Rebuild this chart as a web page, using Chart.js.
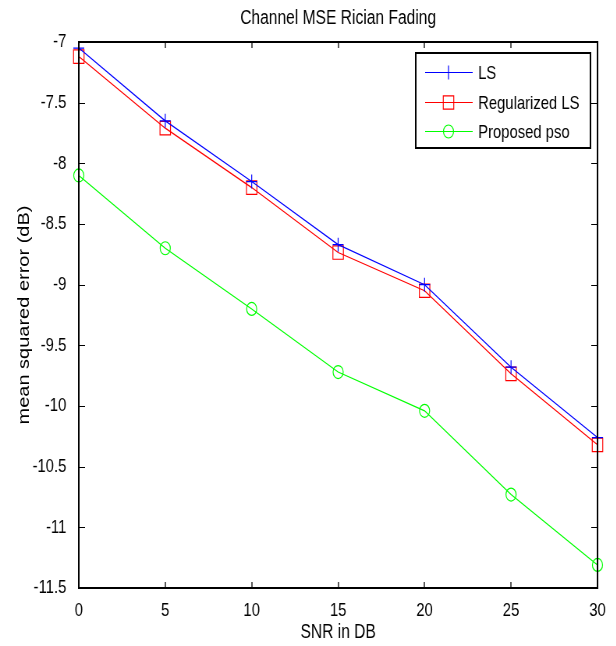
<!DOCTYPE html>
<html>
<head>
<meta charset="utf-8">
<script src="https://cdn.jsdelivr.net/npm/chart.js@4.4.1/dist/chart.umd.min.js"></script>
<style>
  html, body { margin: 0; padding: 0; background: #fff; overflow: hidden; }
  /* the reference figure is squeezed sideways, so draw wide and squeeze */
  #wrap { width: 790px; height: 646px; transform: scaleX(0.78); transform-origin: 0 0; }
</style>
</head>
<body>
<div id="wrap"><canvas id="mseChart" width="790" height="646"></canvas></div>
<script>
// Values
const snr = [0, 5, 10, 15, 20, 25, 30];
const lsMse = [-7.05, -7.65, -8.15, -8.67, -9.0, -9.68, -10.26];
const regLsMse = [-7.12, -7.71, -8.2, -8.735, -9.05, -9.735, -10.32];
const psoMse = [-8.1, -8.7, -9.2, -9.72, -10.04, -10.73, -11.31];
const yTicks = [-7, -7.5, -8, -8.5, -9, -9.5, -10, -10.5, -11, -11.5];
const xTicks = [0, 5, 10, 15, 20, 25, 30];

const FONT = '"Liberation Sans", Arial, sans-serif';

// MATLAB style box with inward ticks on all four sides
const boxPlugin = {
    id: 'matlabBox',
    afterDatasetsDraw(chart) {
        const { ctx, chartArea: a, scales } = chart;
        ctx.save();
        ctx.strokeStyle = '#000';
        ctx.lineWidth = 1.3;
        ctx.beginPath();
        xTicks.forEach(v => {
            const px = Math.round(scales.x.getPixelForValue(v));
            ctx.moveTo(px, a.bottom); ctx.lineTo(px, a.bottom - 6);
            ctx.moveTo(px, a.top); ctx.lineTo(px, a.top + 6);
        });
        ctx.stroke();
        ctx.lineWidth = 1;
        ctx.beginPath();
        yTicks.forEach(v => {
            const py = Math.round(scales.y.getPixelForValue(v)) + 0.5;
            ctx.moveTo(a.left, py); ctx.lineTo(a.left + 8, py);
            ctx.moveTo(a.right, py); ctx.lineTo(a.right - 8, py);
        });
        ctx.stroke();
        ctx.lineWidth = 2;
        ctx.strokeRect(a.left, a.top, a.right - a.left, a.bottom - a.top);
        ctx.restore();
    }
};

// Legend drawn inside the plot, top right
const legendPlugin = {
    id: 'insideLegend',
    afterDraw(chart) {
        const { ctx, chartArea: a } = chart;
        const x0 = a.right - 233, y0 = a.top + 11, w = 224, h = 95;
        ctx.save();
        ctx.fillStyle = '#fff';
        ctx.fillRect(x0, y0, w, h);
        ctx.strokeStyle = '#000';
        ctx.lineWidth = 2;
        ctx.strokeRect(x0, y0, w, h);
        ctx.font = '19px ' + FONT;
        ctx.textBaseline = 'middle';
        chart.data.datasets.forEach((ds, i) => {
            const cy = Math.round(y0 + 19 + i * 29.5) + 0.5;
            ctx.strokeStyle = ds.borderColor;
            ctx.fillStyle = 'rgba(0,0,0,0)';
            ctx.lineWidth = 1.2;
            ctx.beginPath();
            ctx.moveTo(x0 + 12, cy); ctx.lineTo(x0 + 73, cy);
            ctx.stroke();
            Chart.helpers.drawPoint(ctx, {
                pointStyle: ds.pointStyle,
                radius: ds.pointRadius,
                borderWidth: 1.2
            }, x0 + 42, cy);
            ctx.fillStyle = '#000';
            ctx.fillText(ds.label, x0 + 80, cy + 1);
        });
        ctx.restore();
    }
};

function series(label, values, color, style, radius) {
    return {
        label: label,
        data: values.map((v, i) => ({ x: snr[i], y: v })),
        borderColor: color,
        backgroundColor: 'transparent',
        borderWidth: 1.2,
        pointStyle: style,
        pointRadius: radius,
        pointBorderColor: color,
        pointBackgroundColor: 'transparent',
        pointBorderWidth: 1.2,
        tension: 0,
        clip: false
    };
}

new Chart(document.getElementById('mseChart').getContext('2d'), {
    type: 'line',
    data: {
        datasets: [
            series('LS', lsMse, '#0000ff', 'cross', 7),
            series('Regularized LS', regLsMse, '#ff0000', 'rect', 9.5),
            series('Proposed pso', psoMse, '#00ff00', 'circle', 6.5)
        ]
    },
    options: {
        responsive: false,
        animation: false,
        devicePixelRatio: 1,
        layout: { padding: { left: 0, right: 24, top: 0, bottom: 0 } },
        plugins: {
            legend: { display: false },
            tooltip: { enabled: false },
            title: {
                display: true,
                fullSize: false,
                text: 'Channel MSE Rician Fading',
                color: '#000',
                font: { family: FONT, size: 20, weight: 'normal', lineHeight: 1.2 },
                padding: { top: 6, bottom: 12 }
            }
        },
        scales: {
            x: {
                type: 'linear',
                min: 0,
                max: 30,
                afterBuildTicks: s => { s.ticks = xTicks.map(v => ({ value: v })); },
                afterFit: s => { s.height = 58; },
                grid: { display: false },
                border: { display: false },
                ticks: {
                    color: '#000',
                    padding: 3,
                    maxRotation: 0,
                    callback: v => String(v),
                    font: { family: FONT, size: 19 }
                },
                title: {
                    display: true,
                    text: 'SNR in DB',
                    color: '#000',
                    font: { family: FONT, size: 20, lineHeight: 1.2 },
                    padding: { top: 0, bottom: 2 }
                }
            },
            y: {
                type: 'linear',
                min: -11.5,
                max: -7,
                afterBuildTicks: s => { s.ticks = yTicks.map(v => ({ value: v })); },
                afterFit: s => { s.width = 101; },
                grid: { display: false },
                border: { display: false },
                ticks: {
                    color: '#000',
                    padding: 8,
                    callback: v => String(v),
                    font: { family: FONT, size: 19 }
                },
                title: {
                    display: true,
                    text: 'mean squared error (dB)',
                    color: '#000',
                    font: { family: FONT, size: 20, lineHeight: 1.2 },
                    padding: { top: 19, bottom: 0 }
                }
            }
        }
    },
    plugins: [boxPlugin, legendPlugin]
});
</script>
</body>
</html>
